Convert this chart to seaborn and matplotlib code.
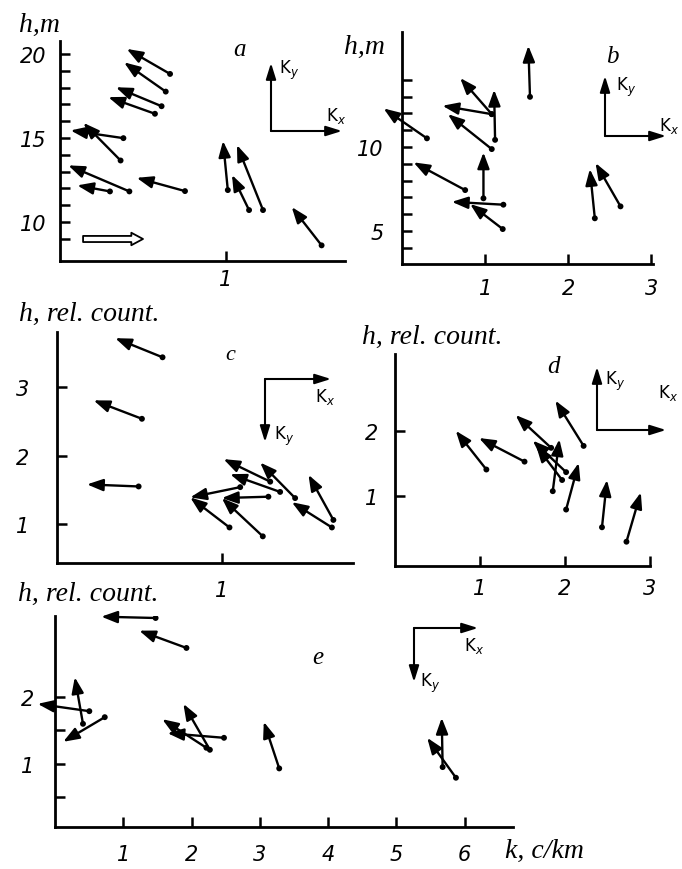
import matplotlib
matplotlib.use("Agg")
import matplotlib.pyplot as plt
import pandas as pd
import seaborn as sns

sns.set_theme(style="white")
plt.rcParams["font.family"] = ["DejaVu Sans"]
plt.rcParams["mathtext.fontset"] = "dejavusans"

W, H = 682, 870

# ---- panel a: h in metres ----
a_k0 = [0.663, 0.637, 0.612, 0.572, 0.382, 0.365, 0.418, 0.301, 0.753, 1.011, 1.139, 1.223, 1.576]
a_h0 = [18.81, 17.76, 16.89, 16.44, 14.99, 13.66, 11.82, 11.82, 11.84, 11.90, 10.71, 10.71, 8.61]
a_k1 = [0.402, 0.386, 0.337, 0.291, 0.064, 0.141, 0.050, 0.104, 0.462, 0.982, 1.036, 1.066, 1.396]
a_h1 = [20.30, 19.50, 18.02, 17.43, 15.45, 15.90, 13.37, 12.18, 12.63, 14.82, 12.80, 14.58, 10.89]
wind_k = [0.139, 0.50]
wind_h = [8.99, 8.99]

# ---- panel b: h in metres ----
b_k0 = [0.300, 1.080, 1.080, 1.120, 1.080, 0.980, 0.760, 1.220, 1.212, 1.540, 2.320, 2.629]
b_h0 = [10.52, 11.96, 11.96, 10.43, 9.88, 6.95, 7.44, 6.57, 5.12, 12.99, 5.76, 6.47]
b_k1 = [-0.221, 0.700, 0.487, 1.108, 0.552, 0.980, 0.139, 0.600, 0.820, 1.520, 2.260, 2.329]
b_h1 = [12.30, 14.11, 12.46, 13.41, 11.96, 9.68, 9.09, 6.74, 6.61, 16.03, 8.69, 9.05]

# ---- panel c: relative height ----
c_k0 = [0.640, 0.515, 0.495, 1.111, 1.046, 1.282, 1.248, 1.293, 1.353, 1.444, 1.667, 1.676]
c_h0 = [3.44, 2.54, 1.55, 1.54, 0.95, 1.40, 0.82, 1.62, 1.47, 1.38, 0.95, 1.06]
c_k1 = [0.353, 0.222, 0.182, 0.808, 0.808, 1.000, 1.000, 1.010, 1.050, 1.232, 1.424, 1.525]
c_h1 = [3.72, 2.81, 1.58, 1.39, 1.39, 1.38, 1.38, 1.95, 1.73, 1.90, 1.32, 1.72]

# ---- panel d: relative height ----
d_k0 = [1.075, 1.524, 1.837, 2.219, 2.013, 1.966, 1.856, 2.013, 2.435, 2.723]
d_h0 = [1.41, 1.53, 1.74, 1.77, 1.37, 1.25, 1.08, 0.80, 0.53, 0.31]
d_k1 = [0.715, 0.988, 1.419, 1.887, 1.621, 1.661, 1.934, 2.161, 2.494, 2.892]
d_h1 = [2.00, 1.89, 2.24, 2.46, 1.85, 1.77, 1.87, 1.51, 1.25, 1.06]

# ---- panel e: relative height ----
e_k0 = [1.474, 1.926, 0.503, 0.410, 0.729, 2.269, 2.218, 2.476, 3.285, 5.874, 5.679]
e_h0 = [3.19, 2.74, 1.79, 1.60, 1.70, 1.21, 1.24, 1.39, 0.93, 0.79, 0.95]
e_k1 = [0.678, 1.234, -0.254, 0.290, 0.120, 1.881, 1.571, 1.648, 3.059, 5.453, 5.666]
e_h1 = [3.21, 3.00, 1.90, 2.30, 1.33, 1.90, 1.67, 1.46, 1.63, 1.39, 1.69]

SERIF = ["Liberation Serif", "DejaVu Serif"]
NUMF = ["DejaVu Sans"]
LABEL_SIZE = 20

fig = plt.figure(figsize=(W / 100, H / 100), dpi=100)


def fpos(x, y):
    return x / W, 1 - y / H


def make_axes(left, top, right, bottom):
    ax = fig.add_axes([left / W, 1 - bottom / H, (right - left) / W, (bottom - top) / H])
    ax.patch.set_alpha(0)
    return ax


def style_axes(ax, xlim, ylim, xticks, yticks, yminor, xpad, ypad):
    ax.set_xlim(*xlim)
    ax.set_ylim(*ylim)
    ax.set_xlabel("")
    ax.set_ylabel("")
    for s in ["top", "right"]:
        ax.spines[s].set_visible(False)
    for s in ["left", "bottom"]:
        ax.spines[s].set_linewidth(2.0)
        ax.spines[s].set_color("black")
    ax.set_xticks(xticks)
    ax.set_yticks(yticks)
    ax.set_yticks(yminor, minor=True)
    ax.set_xticklabels([str(t) for t in xticks])
    ax.set_yticklabels([str(t) for t in yticks])
    ax.tick_params(which="both", direction="in", length=7, width=1.8, colors="black",
                   left=True, bottom=True)
    ax.tick_params(axis="x", pad=xpad)
    ax.tick_params(axis="y", pad=ypad)
    for lab in ax.get_xticklabels() + ax.get_yticklabels():
        lab.set_fontstyle("italic")
        lab.set_fontsize(15)
        lab.set_family(NUMF)
    ax.grid(False)


def draw_vectors(ax, k0, h0, k1, h1):
    df = pd.DataFrame({"k": k0, "h": h0})
    sns.scatterplot(data=df, x="k", y="h", ax=ax, color="black", s=18,
                    edgecolor="none", zorder=4, legend=False)
    for xa, ya, xb, yb in zip(k0, h0, k1, h1):
        ax.annotate("", xy=(xb, yb), xytext=(xa, ya), annotation_clip=False,
                    arrowprops=dict(arrowstyle="-|>,head_length=0.8,head_width=0.3",
                                    color="black", lw=1.7, shrinkA=0, shrinkB=0,
                                    mutation_scale=12))


def frame_arrow(p0, p1):
    fig.patches.append(matplotlib.patches.FancyArrowPatch(
        fpos(*p0), fpos(*p1), transform=fig.transFigure,
        arrowstyle="-|>,head_length=0.8,head_width=0.25", mutation_scale=12,
        color="black", lw=1.5, shrinkA=0, shrinkB=0))


def frame_text(x, y, s, size=11, **kw):
    fig.text(*fpos(x, y), s, ha="center", va="center", fontsize=size, color="black", **kw)


def kxky(corner, xend, yend, kx_at, ky_at):
    frame_arrow(corner, xend)
    frame_arrow(corner, yend)
    frame_text(*kx_at, r"$\mathsf{K}_{x}$", size=12)
    frame_text(*ky_at, r"$\mathsf{K}_{y}$", size=12)


def axis_title(x, y, s):
    frame_text(x, y, s, size=LABEL_SIZE, family=SERIF, style="italic")


# panel a
ax_a = make_axes(60, 42, 345, 262)
draw_vectors(ax_a, a_k0, a_h0, a_k1, a_h1)
ax_a.annotate("", xy=(wind_k[1], wind_h[1]), xytext=(wind_k[0], wind_h[0]),
              arrowprops=dict(arrowstyle="simple,head_length=0.42,head_width=0.45,tail_width=0.22",
                              fc="white", ec="black", lw=1.3, mutation_scale=20,
                              shrinkA=0, shrinkB=0))
style_axes(ax_a, (0, 1.717), (7.68, 20.77), [1], [10, 15, 20], list(range(9, 20)), 6, 10)
axis_title(39, 25, "h,m")
frame_text(240, 50, "a", size=18, family=SERIF, style="italic")
kxky((271, 132), (342, 132), (271, 64), (336, 116), (289, 70))

# panel b
ax_b = make_axes(402, 33, 653, 265)
draw_vectors(ax_b, b_k0, b_h0, b_k1, b_h1)
style_axes(ax_b, (0, 3.02), (3.04, 16.85), [1, 2, 3], [5, 10], list(range(4, 15)), 10, 13)
axis_title(364, 47, "h,m")
frame_text(612, 57, "b", size=18, family=SERIF, style="italic")
kxky((605, 137), (666, 137), (605, 77), (669, 126), (626, 87))

# panel c
ax_c = make_axes(57, 333, 353, 564)
draw_vectors(ax_c, c_k0, c_h0, c_k1, c_h1)
style_axes(ax_c, (0, 1.795), (0.43, 3.81), [1], [1, 2, 3], [], 12, 20)
axis_title(89, 314, "h, rel. count.")
frame_text(230, 355, "c", size=16, family=SERIF, style="italic")
kxky((265, 380), (331, 380), (265, 443), (325, 397), (284, 436))

# panel d
ax_d = make_axes(395, 355, 650, 567)
draw_vectors(ax_d, d_k0, d_h0, d_k1, d_h1)
style_axes(ax_d, (0, 2.99), (-0.06, 3.17), [1, 2, 3], [1, 2], [], 9, 12)
axis_title(432, 337, "h, rel. count.")
frame_text(553, 367, "d", size=18, family=SERIF, style="italic")
kxky((597, 431), (666, 431), (597, 368), (668, 393), (615, 381))

# panel e
ax_e = make_axes(55, 617, 513, 828)
draw_vectors(ax_e, e_k0, e_h0, e_k1, e_h1)
style_axes(ax_e, (0, 6.71), (0.05, 3.22), [1, 2, 3, 4, 5, 6], [1, 2], [0.5, 1.5], 12, 15)
axis_title(88, 594, "h, rel. count.")
frame_text(318, 658, "e", size=18, family=SERIF, style="italic")
axis_title(544, 851, "k, c/km")
kxky((414, 629), (478, 629), (414, 683), (474, 646), (430, 683))

fig.savefig("out.png", dpi=100, facecolor="white")
